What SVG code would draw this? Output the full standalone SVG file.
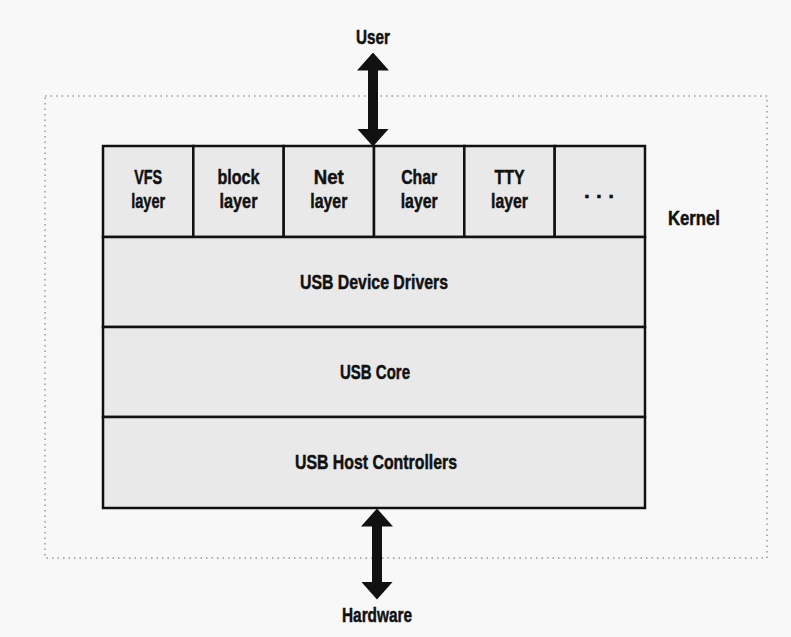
<svg xmlns="http://www.w3.org/2000/svg" width="791" height="637" viewBox="0 0 791 637">
  <style>
    .box { fill: #e9e9e9; stroke: #111; stroke-width: 2.5; }
    .lbl { font-family: "Liberation Sans Narrow", "Liberation Sans", Arial, sans-serif; font-weight: bold; font-size: 21px; fill: #111; stroke: #111; stroke-width: 0.5; text-anchor: middle; }
    .conn { stroke: #111; stroke-width: 10; fill: none; marker-start: url(#head); marker-end: url(#head); }
    .kernel { fill: none; stroke: #999; stroke-width: 1.5; stroke-dasharray: 1.5 4; }
  </style>
  <defs>
    <marker id="head" viewBox="0 0 18 32" markerWidth="18" markerHeight="32" markerUnits="userSpaceOnUse" refX="0.5" refY="16" orient="auto-start-reverse">
      <path d="M0,0 L18,16 L0,32 Z" fill="#111"/>
    </marker>
  </defs>
  <rect width="791" height="637" fill="#f8f8f8"/>

  <g id="kernel">
    <rect class="kernel" x="45" y="96" width="722" height="462"/>
    <text class="lbl" x="694" y="225" textLength="52" lengthAdjust="spacingAndGlyphs">Kernel</text>
  </g>

  <g id="vfs-layer">
    <rect class="box" x="103" y="146" width="90.3" height="91"/>
    <text class="lbl" x="148.2" y="184" textLength="28" lengthAdjust="spacingAndGlyphs">VFS</text>
    <text class="lbl" x="148.2" y="208" textLength="34" lengthAdjust="spacingAndGlyphs">layer</text>
  </g>
  <g id="block-layer">
    <rect class="box" x="193.3" y="146" width="90.4" height="91"/>
    <text class="lbl" x="238.5" y="184" textLength="42" lengthAdjust="spacingAndGlyphs">block</text>
    <text class="lbl" x="238.5" y="208" textLength="38" lengthAdjust="spacingAndGlyphs">layer</text>
  </g>
  <g id="net-layer">
    <rect class="box" x="283.7" y="146" width="90.3" height="91"/>
    <text class="lbl" x="328.8" y="184" textLength="30" lengthAdjust="spacingAndGlyphs">Net</text>
    <text class="lbl" x="328.8" y="208" textLength="37" lengthAdjust="spacingAndGlyphs">layer</text>
  </g>
  <g id="char-layer">
    <rect class="box" x="374" y="146" width="90.3" height="91"/>
    <text class="lbl" x="419.2" y="184" textLength="36" lengthAdjust="spacingAndGlyphs">Char</text>
    <text class="lbl" x="419.2" y="208" textLength="37" lengthAdjust="spacingAndGlyphs">layer</text>
  </g>
  <g id="tty-layer">
    <rect class="box" x="464.3" y="146" width="90.4" height="91"/>
    <text class="lbl" x="509.5" y="184" textLength="30" lengthAdjust="spacingAndGlyphs">TTY</text>
    <text class="lbl" x="509.5" y="208" textLength="37" lengthAdjust="spacingAndGlyphs">layer</text>
  </g>
  <g id="more-layers">
    <rect class="box" x="554.7" y="146" width="90.3" height="91"/>
    <text class="lbl" x="599" y="198" textLength="30" lengthAdjust="spacing">...</text>
  </g>

  <g id="usb-device-drivers">
    <rect class="box" x="103" y="237" width="542" height="90"/>
    <text class="lbl" x="374" y="289" textLength="148" lengthAdjust="spacingAndGlyphs">USB Device Drivers</text>
  </g>
  <g id="usb-core">
    <rect class="box" x="103" y="327" width="542" height="90"/>
    <text class="lbl" x="375" y="379" textLength="70" lengthAdjust="spacingAndGlyphs">USB Core</text>
  </g>
  <g id="usb-host-controllers">
    <rect class="box" x="103" y="417" width="542" height="91"/>
    <text class="lbl" x="376" y="469" textLength="162" lengthAdjust="spacingAndGlyphs">USB Host Controllers</text>
  </g>

  <g id="user">
    <text class="lbl" x="373" y="44" textLength="34" lengthAdjust="spacingAndGlyphs">User</text>
  </g>
  <g id="hardware">
    <text class="lbl" x="377" y="622" textLength="70" lengthAdjust="spacingAndGlyphs">Hardware</text>
  </g>

  <g id="connectors">
    <line class="conn" x1="373" y1="70" x2="373" y2="129"/>
    <line class="conn" x1="377" y1="526" x2="377" y2="582"/>
  </g>
</svg>
